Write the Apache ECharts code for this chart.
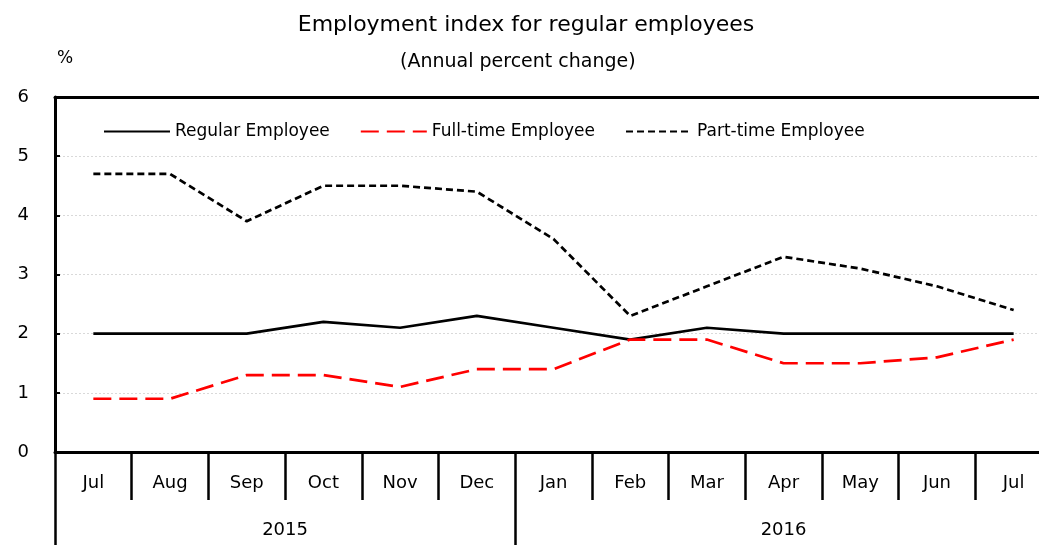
<!DOCTYPE html>
<html>
<head>
<meta charset="utf-8">
<script src="https://cdn.jsdelivr.net/npm/echarts@6/dist/echarts.min.js"></script>
<style>html,body{margin:0;padding:0;background:#fff;overflow:hidden;width:1039px;height:545px}#c{width:1052px;height:545px}</style>
</head>
<body>
<div id="c"></div>
<script>
const months = ['Jul','Aug','Sep','Oct','Nov','Dec','Jan','Feb','Mar','Apr','May','Jun','Jul'];
const years = ['2015','2016'];
const yearSpans = [6, 7];
const regular = [2.0, 2.0, 2.0, 2.2, 2.1, 2.3, 2.1, 1.9, 2.1, 2.0, 2.0, 2.0, 2.0];
const fullTime = [0.9, 0.9, 1.3, 1.3, 1.1, 1.4, 1.4, 1.9, 1.9, 1.5, 1.5, 1.6, 1.9];
const partTime = [4.7, 4.7, 3.9, 4.5, 4.5, 4.4, 3.6, 2.3, 2.8, 3.3, 3.1, 2.8, 2.4];
const yTicks = [0, 1, 2, 3, 4, 5, 6];

const bounds = [0];
const centers = [];
yearSpans.forEach((s, i) => { centers.push(bounds[i] + s / 2); bounds.push(bounds[i] + s); });

const FONT = 'DejaVu Sans';
const chart = echarts.init(document.getElementById('c'));
chart.setOption({
  animation: false,
  textStyle: { fontFamily: FONT, color: '#000' },
  title: [
    {
      text: 'Employment index for regular employees',
      left: 'center', top: 9,
      textStyle: { fontFamily: FONT, fontSize: 22, fontWeight: 'normal', color: '#000' }
    },
    {
      text: '(Annual percent change)',
      left: 395, top: 48,
      textStyle: { fontFamily: FONT, fontSize: 19, fontWeight: 'normal', color: '#000' }
    }
  ],
  legend: {
    top: 118, left: 98, itemWidth: 66, itemHeight: 14, itemGap: 30,
    textStyle: { fontFamily: FONT, fontSize: 17, color: '#000' },
    itemStyle: { opacity: 0 },
    data: ['Regular Employee', 'Full-time Employee', 'Part-time Employee']
  },
  grid: { left: 55, top: 97, right: 0, bottom: 93, containLabel: false },
  xAxis: [
    {
      type: 'category', data: months, position: 'bottom', boundaryGap: true,
      axisLine: { show: true, lineStyle: { color: '#000', width: 3 } },
      axisTick: { show: true, interval: 0, length: 48, lineStyle: { color: '#000', width: 2.5 } },
      axisLabel: { interval: 0, margin: 22, fontSize: 18, color: '#000', fontFamily: FONT },
      splitLine: { show: false }
    },
    {
      type: 'value', min: 0, max: bounds[bounds.length - 1], position: 'bottom',
      axisLine: { show: false },
      axisTick: { show: true, customValues: bounds, length: 100, lineStyle: { color: '#000', width: 2.5 } },
      axisLabel: {
        customValues: centers, margin: 69, fontSize: 18, color: '#000', fontFamily: FONT,
        formatter: v => { const i = centers.indexOf(v); return i >= 0 ? years[i] : ''; }
      },
      splitLine: { show: false }
    },
    {
      type: 'category', data: months, position: 'top',
      axisLine: { show: true, lineStyle: { color: '#000', width: 3 } },
      axisTick: { show: false }, axisLabel: { show: false }, splitLine: { show: false }
    }
  ],
  yAxis: {
    type: 'value', min: yTicks[0], max: yTicks[yTicks.length - 1], interval: 1,
    name: '%', nameLocation: 'end', nameGap: 30,
    nameTextStyle: { fontFamily: FONT, fontSize: 17, color: '#000', align: 'left', padding: [0, 0, 0, 2] },
    axisLine: { show: true, lineStyle: { color: '#000', width: 3 } },
    axisTick: { show: true, inside: true, length: 5, lineStyle: { color: '#000', width: 2 } },
    axisLabel: { margin: 26, fontSize: 18, color: '#000', fontFamily: FONT },
    splitLine: { show: true, lineStyle: { color: '#d9d9d9', width: 1, type: [2, 2] } }
  },
  series: [
    {
      name: 'Regular Employee', type: 'line', data: regular, xAxisIndex: 0,
      symbol: 'none', lineStyle: { color: '#000', width: 2.7, type: 'solid' },
      itemStyle: { color: '#000' }
    },
    {
      name: 'Full-time Employee', type: 'line', data: fullTime, xAxisIndex: 0,
      symbol: 'none', lineStyle: { color: '#ff0000', width: 2.7, type: [18, 8] },
      itemStyle: { color: '#ff0000' }
    },
    {
      name: 'Part-time Employee', type: 'line', data: partTime, xAxisIndex: 0,
      symbol: 'none', lineStyle: { color: '#000', width: 2.7, type: [7, 4] },
      itemStyle: { color: '#000' }
    }
  ]
});
</script>
</body>
</html>
